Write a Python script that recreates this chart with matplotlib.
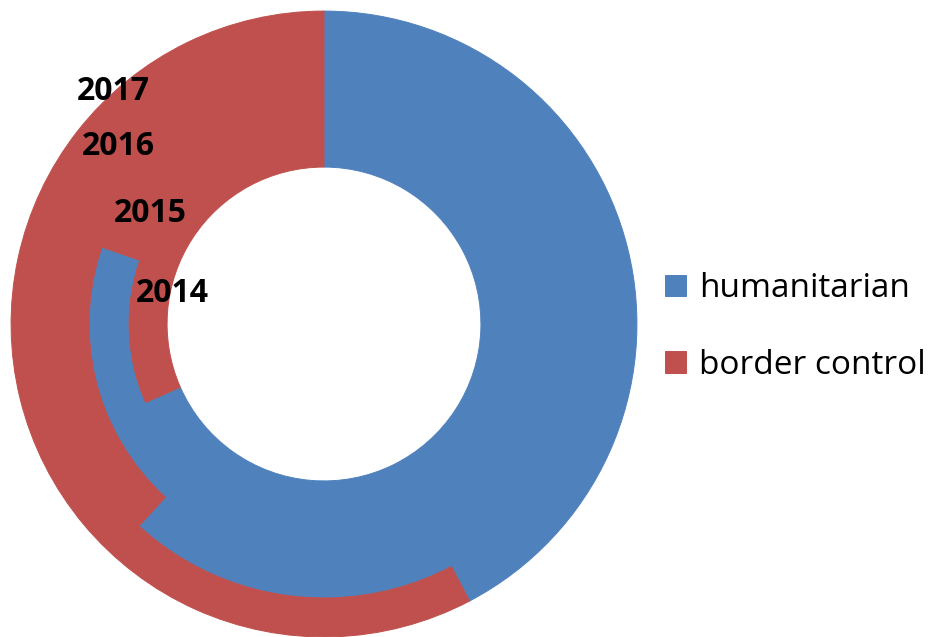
import matplotlib.pyplot as plt

# share of spending per year (%)
years = ['2014', '2015', '2016', '2017']
humanitarian = [68.4, 80.3, 61.8, 42.3]
border_control = [31.6, 19.7, 38.2, 57.7]
series_names = ['humanitarian', 'border control']
colors = ['#4F81BD', '#C0504D']


def main():
    fig = plt.figure(figsize=(9.32, 6.37), dpi=100)
    # pie axes: centre at (324, 324) px from top-left, outer radius 312 px
    ax = fig.add_axes([12 / 932, 1 / 637, 624 / 932, 624 / 637])

    ring_width = 0.125
    hole = 0.503
    wedges = None
    for i in range(len(years)):
        r = hole + ring_width * (i + 1)
        w, _ = ax.pie([humanitarian[i], border_control[i]], radius=r,
                      colors=colors, startangle=90, counterclock=False,
                      wedgeprops=dict(width=ring_width, linewidth=0.7))
        # edge in the fill colour hides the white seams between rings
        for p in w:
            p.set_edgecolor(p.get_facecolor())
        if wedges is None:
            wedges = w
    ax.set_xlim(-1, 1)
    ax.set_ylim(-1, 1)
    ax.set_aspect('equal')
    ax.axis('off')

    # series name labels (pixel positions of the originals)
    label_pos = {'2014': (172, 302), '2015': (150, 222),
                 '2016': (118, 155), '2017': (113, 100)}
    for year in years:
        x, y = label_pos[year]
        fig.text(x / 932, 1 - y / 637, year, ha='center', va='baseline',
                 fontsize=23, fontweight='bold', family='Open Sans',
                 color='black')

    fig.legend(wedges, series_names, loc='center left',
               bbox_to_anchor=(665 / 932, 1 - 327 / 637), frameon=False,
               prop={'family': 'Open Sans', 'size': 24},
               handlelength=0.63, handleheight=0.6, handletextpad=0.38,
               labelspacing=1.3, borderpad=0, borderaxespad=0)

    fig.savefig('out.png', dpi=100)


if __name__ == "__main__":
    main()
